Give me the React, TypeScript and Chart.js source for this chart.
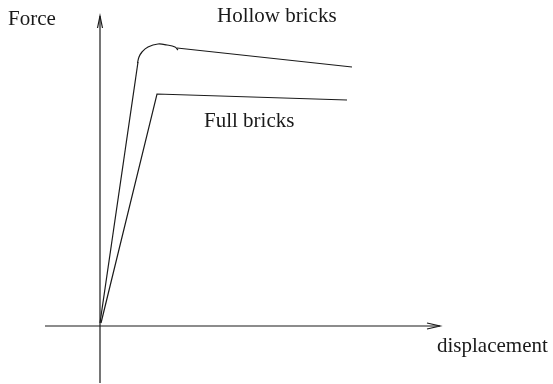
import React, { useEffect, useRef } from "react";
import { Chart, registerables } from "chart.js";

Chart.register(...registerables);

// Schematic force–displacement curves (arbitrary units)
const hollowRiseX = [0, 3.8];
const hollowRiseY = [0.3, 26.4];
const hollowHumpX = [3.75, 3.9, 4.2, 4.8, 5.8, 6.7, 7.5, 7.8];
const hollowHumpY = [26.3, 26.9, 27.4, 27.9, 28.2, 28.1, 27.9, 27.6];
const hollowTailX = [7.7, 25.2];
const hollowTailY = [27.8, 25.9];

const fullX = [0.1, 5.7, 24.7];
const fullY = [0.3, 23.2, 22.6];

// Axes with arrows
const xAxisX = [-5.5, 34];
const xAxisY = [0, 0];
const xArrowX = [32.7, 34, 32.7];
const xArrowY = [0.3, 0, -0.3];
const yAxisX = [0, 0];
const yAxisY = [-5.7, 31];
const yArrowX = [-0.25, 0, 0.25];
const yArrowY = [29.8, 31, 29.8];

const labelTexts = ["Force", "Hollow bricks", "Full bricks", "displacement"];
const labelXs = [-9.2, 11.7, 10.4, 33.7];
const labelYs = [30.1, 30.4, 19.9, -2.6];

const zip = (xs: number[], ys: number[]) => xs.map((x, i) => ({ x, y: ys[i] }));

export default function App() {
  const ref = useRef<HTMLCanvasElement | null>(null);
  useEffect(() => {
    if (!ref.current) return;
    const line = (xs: number[], ys: number[], tension = 0) => ({
      data: zip(xs, ys),
      showLine: true,
      borderColor: "#1a1a1a",
      borderWidth: 1.2,
      pointRadius: 0,
      tension,
      fill: false,
    });
    const labelPlugin = {
      id: "labels",
      afterDatasetsDraw(chart: any) {
        const ctx = chart.ctx;
        const xs = chart.scales.x;
        const ys = chart.scales.y;
        ctx.save();
        ctx.fillStyle = "#1a1a1a";
        ctx.font = "21px 'Liberation Serif', 'Times New Roman', serif";
        ctx.textAlign = "left";
        ctx.textBaseline = "alphabetic";
        labelTexts.forEach((t, i) => {
          ctx.fillText(t, xs.getPixelForValue(labelXs[i]), ys.getPixelForValue(labelYs[i]));
        });
        ctx.restore();
      },
    };
    const chart = new Chart(ref.current, {
      type: "scatter",
      data: {
        datasets: [
          line(xAxisX, xAxisY),
          line(xArrowX, xArrowY),
          line(yAxisX, yAxisY),
          line(yArrowX, yArrowY),
          line(hollowRiseX, hollowRiseY),
          line(hollowHumpX, hollowHumpY, 0.4),
          line(hollowTailX, hollowTailY),
          line(fullX, fullY),
        ] as any,
      },
      options: {
        animation: false,
        responsive: false,
        layout: { padding: 0 },
        plugins: { legend: { display: false }, tooltip: { enabled: false } },
        scales: {
          x: { type: "linear", min: -10, max: 45.3, display: false },
          y: { type: "linear", min: -5.8, max: 32.6, display: false },
        },
      },
      plugins: [labelPlugin],
    });
    return () => chart.destroy();
  }, []);
  return (
    <div style={{ position: "fixed", left: 0, top: 0, width: 553, height: 384, background: "#fff" }}>
      <canvas ref={ref} width={553} height={384} />
    </div>
  );
}
